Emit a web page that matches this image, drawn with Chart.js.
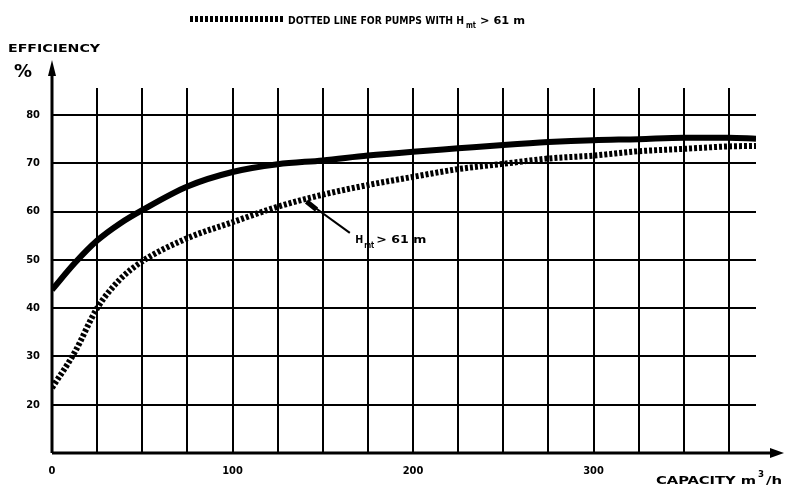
<!DOCTYPE html>
<html>
<head>
<meta charset="utf-8">
<script src="https://cdn.jsdelivr.net/npm/chart.js@4"></script>
<style>
  html, body { margin: 0; padding: 0; background: #fff; }
  #wrap { width: 792px; height: 490px; position: relative; }
</style>
</head>
<body>
<div id="wrap"><canvas id="c" width="792" height="490"></canvas></div>
<script>
// ---- data ----
const capacity = [0, 12.5, 25, 37.5, 50, 75, 100, 125, 150, 175, 200, 225, 250, 275, 300, 325, 350, 375, 390];
const efficiencyStandard = [43.8, 49.3, 54, 57.5, 60.3, 65.2, 68.2, 69.8, 70.6, 71.6, 72.4, 73.1, 73.8, 74.4, 74.8, 75, 75.3, 75.3, 75.1];
const efficiencyHighHead = [23.5, 30.8, 40, 45.9, 49.7, 54.5, 57.8, 61, 63.5, 65.5, 67.2, 68.8, 69.9, 71, 71.6, 72.5, 73, 73.5, 73.6];
const xTickValues = [0, 25, 50, 75, 100, 125, 150, 175, 200, 225, 250, 275, 300, 325, 350, 375];
const xTickLabels = {0: '0', 100: '100', 200: '200', 300: '300'};
const yTickValues = [20, 30, 40, 50, 60, 70, 80];

const FONT = "'Liberation Sans Narrow','DejaVu Sans Condensed','DejaVu Sans',sans-serif";

function toPoints(xs, ys) { return xs.map((x, i) => ({x: x, y: ys[i]})); }

function fitText(ctx, text, x, y, width, font) {
  ctx.save();
  ctx.font = font;
  const w = ctx.measureText(text).width;
  ctx.translate(x, y);
  ctx.scale(width / w, 1);
  ctx.fillText(text, 0, 0);
  ctx.restore();
}

const decor = {
  id: 'decor',
  afterDraw(chart) {
    const ctx = chart.ctx;
    const xs = chart.scales.x, ys = chart.scales.y;
    const left = xs.getPixelForValue(0), bottom = ys.getPixelForValue(10);
    ctx.save();
    ctx.fillStyle = '#000';
    ctx.strokeStyle = '#000';
    // axes with arrows
    ctx.lineWidth = 3;
    ctx.beginPath();
    ctx.moveTo(left, bottom); ctx.lineTo(776, bottom);
    ctx.moveTo(left, bottom); ctx.lineTo(left, 70);
    ctx.stroke();
    ctx.beginPath();
    ctx.moveTo(784, bottom); ctx.lineTo(770, bottom - 5); ctx.lineTo(770, bottom + 5); ctx.closePath(); ctx.fill();
    ctx.beginPath();
    ctx.moveTo(left, 60); ctx.lineTo(left - 4, 76); ctx.lineTo(left + 4, 76); ctx.closePath(); ctx.fill();

    ctx.textBaseline = 'alphabetic';
    ctx.textAlign = 'left';
    // title with dotted sample
    ctx.lineWidth = 6;
    ctx.setLineDash([3, 2]);
    ctx.beginPath(); ctx.moveTo(190, 19); ctx.lineTo(284, 19); ctx.stroke();
    ctx.setLineDash([]);
    fitText(ctx, 'DOTTED LINE FOR PUMPS WITH H', 288, 24, 176, 'bold 11px ' + FONT);
    fitText(ctx, 'mt', 466, 28, 10, 'bold 8px ' + FONT);
    fitText(ctx, '> 61 m', 480, 24, 45, 'bold 11px ' + FONT);

    // y-axis title
    fitText(ctx, 'EFFICIENCY', 8, 52, 92, 'bold 11px ' + FONT);
    fitText(ctx, '%', 14, 77, 18, 'bold 17px ' + FONT);

    // x-axis title
    fitText(ctx, 'CAPACITY m', 656, 484, 100, 'bold 11px ' + FONT);
    fitText(ctx, '3', 758, 477, 6, 'bold 9px ' + FONT);
    fitText(ctx, '/h', 766, 484, 16, 'bold 11px ' + FONT);

    // curve annotation with leader
    const ax = xs.getPixelForValue(141), ay = ys.getPixelForValue(62.1);
    const bx = xs.getPixelForValue(165), by = ys.getPixelForValue(55.6);
    ctx.lineWidth = 2;
    ctx.beginPath(); ctx.moveTo(ax, ay); ctx.lineTo(bx, by); ctx.stroke();
    ctx.lineWidth = 5;
    ctx.beginPath(); ctx.moveTo(ax, ay); ctx.lineTo(ax + 10, ay + 8); ctx.stroke();
    const lx = xs.getPixelForValue(168), ly = ys.getPixelForValue(53.4);
    fitText(ctx, 'H', lx, ly, 8, 'bold 11px ' + FONT);
    fitText(ctx, 'mt', lx + 9, ly + 5, 10, 'bold 8px ' + FONT);
    fitText(ctx, '> 61 m', lx + 21, ly, 50, 'bold 11px ' + FONT);
    ctx.restore();
  }
};

new Chart(document.getElementById('c'), {
  type: 'line',
  data: {
    datasets: [
      {
        label: 'Efficiency',
        data: toPoints(capacity, efficiencyStandard),
        borderColor: '#000',
        borderWidth: 6,
        pointRadius: 0,
        cubicInterpolationMode: 'monotone',
        fill: false
      },
      {
        label: 'Efficiency, H_mt > 61 m',
        data: toPoints(capacity, efficiencyHighHead),
        borderColor: '#000',
        borderWidth: 6,
        borderDash: [3, 2],
        pointRadius: 0,
        cubicInterpolationMode: 'monotone',
        fill: false
      }
    ]
  },
  options: {
    responsive: false,
    animation: false,
    events: [],
    layout: { padding: { left: 0, right: 36, top: 88, bottom: 0 } },
    plugins: { legend: { display: false }, tooltip: { enabled: false }, title: { display: false } },
    scales: {
      x: {
        type: 'linear',
        min: 0,
        max: 390,
        afterBuildTicks(scale) { scale.ticks = xTickValues.map(v => ({value: v})); },
        afterFit(scale) { scale.height = 37; },
        grid: { color: '#000', lineWidth: 2, drawTicks: false },
        border: { display: false },
        ticks: {
          autoSkip: false,
          maxRotation: 0,
          padding: 12,
          color: '#000',
          font: { family: FONT, weight: 'bold', size: 11 },
          callback: (v) => xTickLabels[v] !== undefined ? xTickLabels[v] : ''
        }
      },
      y: {
        type: 'linear',
        min: 10,
        max: 85.6,
        afterBuildTicks(scale) { scale.ticks = yTickValues.map(v => ({value: v})); },
        afterFit(scale) { scale.width = 52; },
        grid: { color: '#000', lineWidth: 2, drawTicks: false },
        border: { display: false },
        ticks: {
          padding: 12,
          color: '#000',
          font: { family: FONT, weight: 'bold', size: 11 },
          callback: (v) => String(v)
        }
      }
    }
  },
  plugins: [decor]
});
</script>
</body>
</html>
